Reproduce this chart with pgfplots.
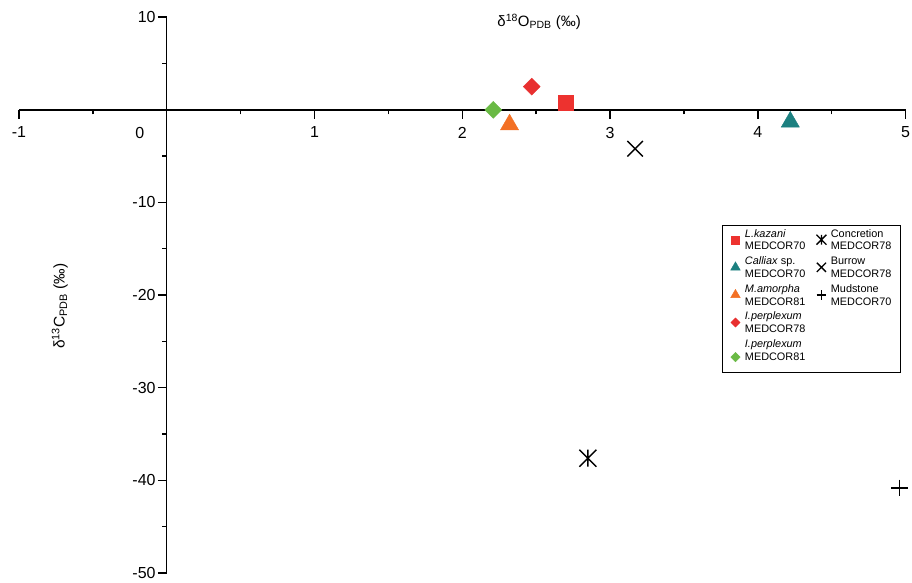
\documentclass[border=0pt]{standalone}
\usepackage{fontspec}
\setmainfont{Liberation Sans}
\usepackage{pgfplots}
\pgfplotsset{compat=1.18}
\pgfdeclareplotmark{xbar}{%
 \pgfpathmoveto{\pgfqpoint{-.7071\pgfplotmarksize}{-.7071\pgfplotmarksize}}%
 \pgfpathlineto{\pgfqpoint{.7071\pgfplotmarksize}{.7071\pgfplotmarksize}}%
 \pgfpathmoveto{\pgfqpoint{-.7071\pgfplotmarksize}{.7071\pgfplotmarksize}}%
 \pgfpathlineto{\pgfqpoint{.7071\pgfplotmarksize}{-.7071\pgfplotmarksize}}%
 \pgfpathmoveto{\pgfqpoint{0pt}{-.7071\pgfplotmarksize}}%
 \pgfpathlineto{\pgfqpoint{0pt}{.7071\pgfplotmarksize}}%
 \pgfusepathqstroke}
\definecolor{cred}{RGB}{237,50,47}
\definecolor{cteal}{RGB}{28,128,128}
\definecolor{corange}{RGB}{243,112,36}
\definecolor{cdred}{RGB}{232,48,48}
\definecolor{cgreen}{RGB}{106,186,69}
\newcommand{\two}[2]{\begin{tabular}{@{}l@{}}#1\\#2\end{tabular}}
\newcommand{\tfont}{\fontsize{16}{18}\selectfont}
\begin{document}
\begin{tikzpicture}
\begin{axis}[
 x=148pt, y=9.28pt,
 xmin=-1, xmax=5, ymin=-50, ymax=10,
 axis lines=middle, axis line style={-, line width=1.4pt},
 clip=false, enlargelimits=false,
 xtick={-1,1,2,3,4,5}, ytick={-50,-40,-30,-20,-10,10},
 minor xtick={-0.5,0.5,1.5,2.5,3.5,4.5},
 minor ytick={-45,-35,-25,-15,-5,5},
 tick align=outside, major tick length=9pt, minor tick length=4.5pt,
 every tick/.style={black, line width=1.4pt},
 /pgf/number format/assume math mode=true,
 xticklabel={\tfont\pgfmathprintnumber{\tick}},
 yticklabel={\tfont\pgfmathprintnumber{\tick}},
 extra x ticks={0}, extra x tick style={major tick length=0pt, xticklabel style={xshift=-27pt, yshift=-9pt}},
 xticklabel style={inner sep=2pt, yshift=-6pt},
 yticklabel style={inner sep=2pt},
 hide obscured x ticks=false, hide obscured y ticks=false,
 legend columns=2,
 legend cell align=left,
 legend image code/.code={\path[draw=none,fill=none] (-6pt,-4pt) rectangle (6pt,4pt); \draw[#1, yshift=-3pt] plot coordinates {(0pt,0pt)};},
 legend style={at={(axis cs:3.757,-12.39)}, anchor=north west, draw=black, line width=1.2pt,
   font=\fontsize{10.9}{12.8}\selectfont, inner xsep=7pt, inner ysep=1pt, row sep=6.6pt,
   /tikz/every odd column/.append style={column sep=1.5pt},
   /tikz/every even column/.append style={column sep=8pt}},
]
\path (axis cs:-1.1284,11.853) rectangle (axis cs:5.0338,-50.97);
% data
\addplot[forget plot, only marks, mark=square*, mark size=7.2pt, color=cred] coordinates {(2.70,0.75)};
\addplot[forget plot, only marks, mark=triangle*, mark size=10.5pt, color=cteal] coordinates {(4.22,-1.3)};
\addplot[forget plot, only marks, mark=triangle*, mark size=10.5pt, color=corange] coordinates {(2.32,-1.6)};
\addplot[forget plot, only marks, mark=square*, mark size=6pt, mark options={rotate=45}, color=cdred] coordinates {(2.47,2.5)};
\addplot[forget plot, only marks, mark=square*, mark size=6pt, mark options={rotate=45}, color=cgreen] coordinates {(2.21,0.0)};
\addplot[forget plot, only marks, mark=xbar, mark size=12pt, line width=1.4pt, color=black] coordinates {(2.85,-37.6)};
\addplot[forget plot, only marks, mark=x, mark size=11pt, line width=1.4pt, color=black] coordinates {(3.17,-4.2)};
\addplot[forget plot, only marks, mark=+, mark size=8.3pt, line width=1.4pt, color=black] coordinates {(4.96,-40.8)};
% legend
\addlegendimage{only marks, mark=square*, mark size=4pt, color=cred, line width=0.4pt}
\addlegendentry{\two{\textit{L.kazani}}{MEDCOR70}}
\addlegendimage{only marks, mark=xbar, mark size=7pt, line width=1.3pt, color=black}
\addlegendentry{\two{Concretion}{MEDCOR78}}
\addlegendimage{only marks, mark=triangle*, mark size=5.5pt, color=cteal, line width=0.4pt}
\addlegendentry{\two{\textit{Calliax} sp.}{MEDCOR70}}
\addlegendimage{only marks, mark=x, mark size=6.5pt, line width=1.3pt, color=black}
\addlegendentry{\two{Burrow}{MEDCOR78}}
\addlegendimage{only marks, mark=triangle*, mark size=5.5pt, color=corange, line width=0.4pt}
\addlegendentry{\two{\textit{M.amorpha}}{MEDCOR81}}
\addlegendimage{only marks, mark=+, mark size=4.8pt, line width=1.3pt, color=black}
\addlegendentry{\two{Mudstone}{MEDCOR70}}
\addlegendimage{only marks, mark=square*, mark size=3.3pt, mark options={rotate=45}, color=cdred, line width=0.4pt}
\addlegendentry{\two{\textit{I.perplexum}}{MEDCOR78}}
\addlegendimage{empty legend}
\addlegendentry{}
\addlegendimage{only marks, mark=square*, mark size=3.3pt, mark options={rotate=45}, color=cgreen, line width=0.4pt}
\addlegendentry{\two{\textit{I.perplexum}}{MEDCOR81\rule[-32pt]{0pt}{32pt}}}
% labels
\node[font=\fontsize{15}{17}\selectfont] at (axis cs:2.52,9.48) {δ\textsuperscript{18}O\textsubscript{PDB} (‰)};
\node[font=\fontsize{15.5}{17}\selectfont, rotate=90] at (axis cs:-0.723,-21.2) {δ\textsuperscript{13}C\textsubscript{PDB} (‰)};
\end{axis}
\end{tikzpicture}
\end{document}
